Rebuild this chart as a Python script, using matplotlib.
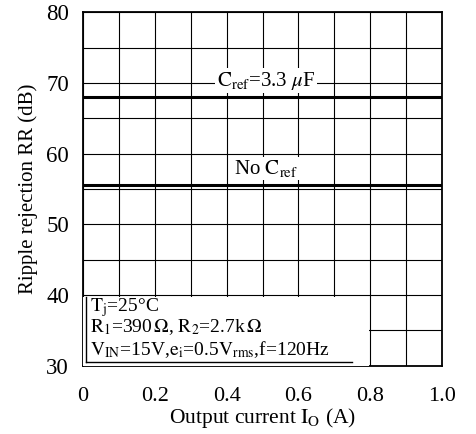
import numpy as np
import matplotlib.pyplot as plt
from matplotlib.patches import Rectangle

plt.rcParams['font.family'] = ['Liberation Serif', 'DejaVu Serif']
plt.rcParams['mathtext.fontset'] = 'stix'

# ripple rejection vs output current, flat over the whole range
current = [0.0, 1.0]
rr_cref = [68.0, 68.0]
rr_none = [55.5, 55.5]

xticks = [0.0, 0.2, 0.4, 0.6, 0.8, 1.0]
xlabels = ['0', '0.2', '0.4', '0.6', '0.8', '1.0']
yticks = [30, 40, 50, 60, 70, 80]

fig = plt.figure(figsize=(4.76, 4.34), dpi=100)
ax = fig.add_axes([0.174, 0.157, 0.755, 0.815])

ax.set_xlim(0, 1.0)
ax.set_ylim(30, 80)
ax.set_xticks(xticks)
ax.set_xticklabels(xlabels)
ax.set_xticks(np.arange(0.1, 1.0, 0.2), minor=True)
ax.set_yticks(yticks)
ax.set_yticks(np.arange(35, 80, 10), minor=True)
ax.grid(True, which='both', color='black', linewidth=0.8)
ax.tick_params(which='both', length=0)
ax.tick_params(axis='x', pad=15, labelsize=16)
ax.tick_params(axis='y', pad=10, labelsize=16.5)
for s in ax.spines.values():
    s.set_linewidth(1.3)

ax.plot(current, rr_cref, color='black', linewidth=2.2, zorder=5)
ax.plot(current, rr_none, color='black', linewidth=2.2, zorder=5)

lbl_box = dict(facecolor='white', edgecolor='none', pad=1.0)
ax.text(0.51, 70.3, r'$\mathrm{C_{ref}}$=3.3 $\mu$F', ha='center', va='center',
        fontsize=15, bbox=lbl_box, zorder=2)
ax.text(0.51, 57.9, r'No $\mathrm{C_{ref}}$', ha='center', va='center',
        fontsize=15, bbox=lbl_box, zorder=2)

# conditions box in the lower left corner
ax.add_patch(Rectangle((0.0, 30.0), 0.797, 9.8, facecolor='white',
                       edgecolor='none', zorder=3))
ax.plot([0.01, 0.01], [30.5, 39.8], color='black', linewidth=1.0, zorder=4)
ax.plot([0.01, 0.75], [30.5, 30.5], color='black', linewidth=1.0, zorder=4)
ax.text(0.02, 39.9, r'$\mathrm{T_j}$=25°C', ha='left', va='top',
        fontsize=14, zorder=4)
ax.text(0.02, 36.85, r'$\mathrm{R_1}$=390$\,\Omega$, $\mathrm{R_2}$=2.7k$\,\Omega$',
        ha='left', va='top', fontsize=14, zorder=4)
ax.text(0.02, 33.8, r'$\mathrm{V_{IN}}$=15V,$\mathrm{e_i}$=0.5$\mathrm{V_{rms}}$,f=120Hz',
        ha='left', va='top', fontsize=14, zorder=4)

ax.set_xlabel(r'Output current $\mathrm{I_O}$ (A)', fontsize=15.5, labelpad=0)
ax.set_ylabel('Ripple rejection RR (dB)', fontsize=15, labelpad=6)

fig.savefig('out.png', dpi=100)
